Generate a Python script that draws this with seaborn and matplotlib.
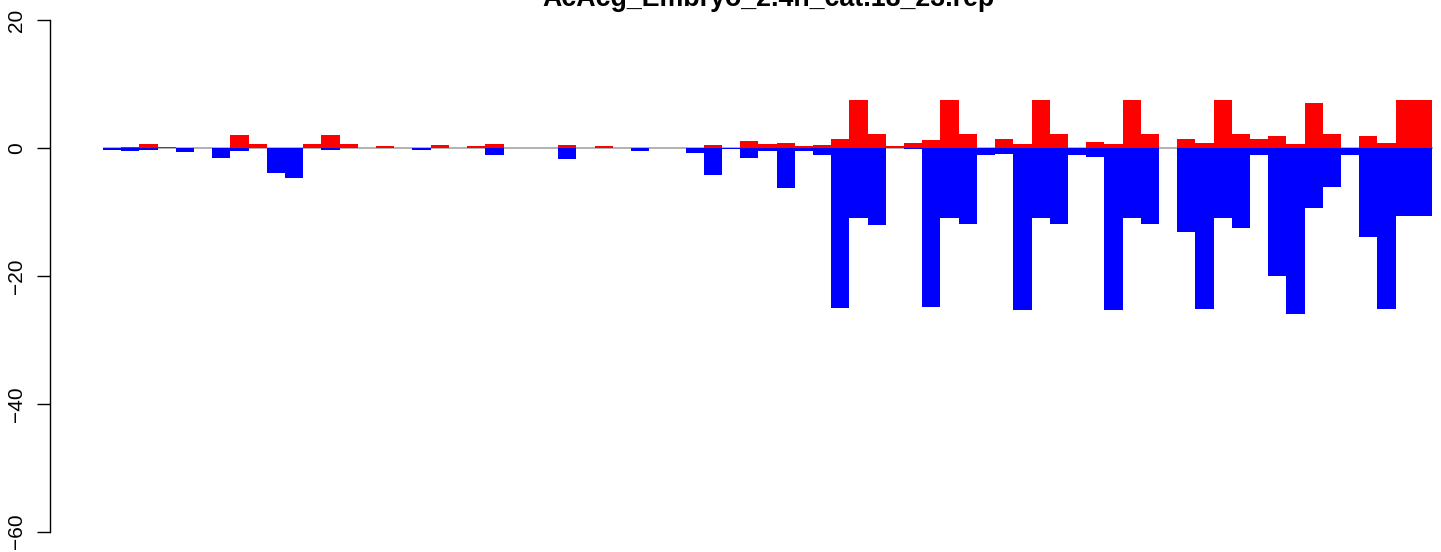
import pandas as pd
import seaborn as sns
import matplotlib.pyplot as plt

title = "AcAcg_Embryo_2.4h_cat.18_23.rep"

# values, one per bin (73 bins)
pos_vals = [0, 0.15, 0.6, 0.15, 0, 0, 0, 2.0, 0.6, 0,
            0, 0.6, 2.0, 0.6, 0, 0.3, 0, 0, 0.45, 0,
            0.3, 0.6, 0, 0, 0, 0.45, 0, 0.3, 0, 0,
            0, 0, 0, 0.45, 0, 1.2, 0.6, 0.75, 0.3, 0.45,
            1.5, 7.5, 2.15, 0.3, 0.75, 1.35, 7.5, 2.15, 0.1, 1.5,
            0.6, 7.5, 2.3, 0.1, 0.9, 0.6, 7.5, 2.3, 0.1, 1.5,
            0.75, 7.5, 2.3, 1.5, 1.85, 0.6, 7.15, 2.15, 0.1, 1.85,
            0.75, 7.5, 7.5]
neg_vals = [-0.2, -0.5, -0.2, 0, -0.65, 0, -1.6, -0.5, 0, -3.95,
            -4.7, 0, -0.2, 0, 0, 0, 0, -0.2, 0, 0,
            0, -1.0, 0, 0, 0, -1.75, 0, 0, 0, -0.5,
            0, 0, -0.8, -4.25, -0.15, -1.6, -0.5, -6.3, -0.5, -1.1,
            -25.0, -10.9, -12.05, 0, -0.1, -24.9, -10.9, -11.9, -1.1, -0.95,
            -25.3, -10.9, -11.9, -1.1, -1.4, -25.3, -10.9, -11.9, 0, -13.15,
            -25.2, -10.9, -12.5, -1.1, -20.0, -25.95, -9.4, -6.1, -1.1, -13.9,
            -25.2, -10.65, -10.65]
bins = list(range(len(pos_vals)))
yticks = [-60, -40, -20, 0, 20]

df = pd.DataFrame({"bin": bins, "pos": pos_vals, "neg": neg_vals})

plt.rcParams["font.family"] = ["Liberation Sans", "DejaVu Sans"]

fig = plt.figure(figsize=(14.41, 5.52), dpi=100)
ax = fig.add_axes([50 / 1441, 0, 1 - 50 / 1441, 1])

# zero line under the bars
ax.hlines(0, -0.5, len(bins) - 0.45, color="#a6a6a6", lw=1.2, zorder=0.5)

sns.barplot(data=df, x="bin", y="pos", color="red", width=1, saturation=1,
            linewidth=0, errorbar=None, ax=ax)
sns.barplot(data=df, x="bin", y="neg", color="blue", width=1, saturation=1,
            linewidth=0, errorbar=None, ax=ax)

ax.set_xlim(-3.41, len(bins) - 0.01)
ax.set_ylim(-63.2, 23.2)
ax.set_xticks([])
ax.set_xlabel("")
ax.set_ylabel("")
ax.set_yticks(yticks)
ax.set_yticklabels([str(t).replace("-", "\u2212") for t in yticks],
                   rotation=90, va="center")
ax.tick_params(axis="y", length=9.4, width=1, pad=8, labelsize=15)

for s in ["top", "right", "bottom"]:
    ax.spines[s].set_visible(False)
ax.spines["left"].set_bounds(-60, 20)
ax.spines["left"].set_linewidth(1)

fig.text(768 / 1441, 1 - 6 / 552, title, ha="center", va="baseline",
         fontsize=19.3, fontweight="bold")

fig.savefig("out.png", dpi=100)
